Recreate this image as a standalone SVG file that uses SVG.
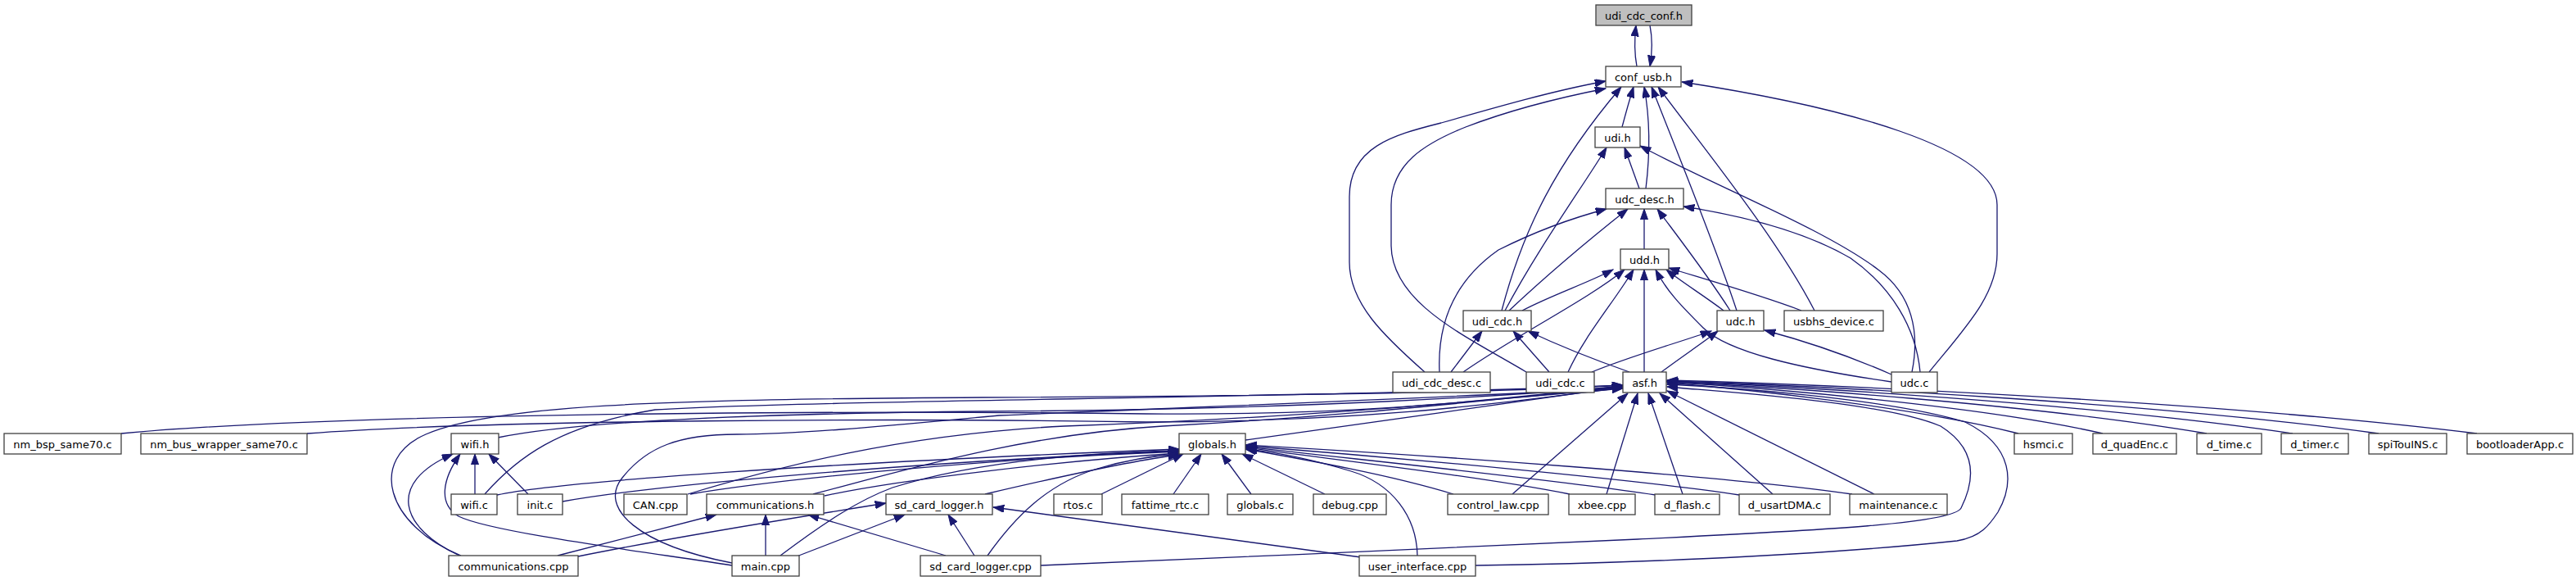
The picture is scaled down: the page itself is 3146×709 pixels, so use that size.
<svg xmlns="http://www.w3.org/2000/svg" width="3146" height="709" viewBox="0 0 3146 709">
<style>
.n rect{fill:#fff;stroke:#404040;stroke-width:1.3}
.n.root rect{fill:#bfbfbf}
.n text{font-family:"DejaVu Sans","Liberation Sans",sans-serif;font-size:13px;text-anchor:middle;fill:#000}
.e path{fill:none;stroke:#191970;stroke-width:1.3;marker-end:url(#arr)}
</style>
<defs>
<marker id="arr" markerUnits="userSpaceOnUse" markerWidth="14" markerHeight="10" refX="13.3" refY="4.65" orient="auto"><path d="M0,0 L13.3,4.65 L0,9.3 z" fill="#191970" stroke="#191970" stroke-width="1"/></marker>
</defs>
<rect width="3146" height="709" fill="#fff"/>
<g id="edges" class="e">
<path d="M1999,81 C1996,65 1996,48 1998,31"/>
<path d="M2015,31 C2018,46 2018,63 2015,81"/>
<path d="M1981,155 C1985,140 1990,122 1995,106"/>
<path d="M2010,230 C2015,190 2016,150 2008,106"/>
<path d="M1834,379 C1860,280 1900,200 1980,106"/>
<path d="M2121,379 C2095,300 2050,190 2017,106"/>
<path d="M2216,379 C2170,290 2080,180 2025,106"/>
<path d="M2356,454 C2400,400 2439,360 2439,310 L2439,250 C2439,180 2250,130 2054,100"/>
<path d="M1740,454 C1690,410 1648,370 1648,320 L1648,240 C1648,180 1700,165 1760,150 C1830,130 1900,110 1961,99"/>
<path d="M1864,454 C1790,410 1700,370 1699,300 L1699,250 C1699,200 1740,175 1790,155 C1850,132 1910,118 1961,108"/>
<path d="M2002,230 L1984,180"/>
<path d="M1838,379 C1880,300 1935,225 1962,180"/>
<path d="M2335,454 C2345,405 2335,360 2295,330 C2230,280 2090,225 2003,178"/>
<path d="M2008,304 L2008,255"/>
<path d="M1843,379 C1890,335 1950,285 1988,255"/>
<path d="M1758,454 C1755,390 1780,340 1830,305 C1880,280 1920,266 1962,255"/>
<path d="M2113,379 C2085,335 2050,290 2024,255"/>
<path d="M2345,454 C2340,400 2310,350 2260,315 C2200,280 2120,262 2056,252"/>
<path d="M1859,379 C1895,360 1940,345 1970,329"/>
<path d="M1787,454 C1850,410 1940,365 1984,329"/>
<path d="M1915,454 C1935,410 1970,370 1995,329"/>
<path d="M2008,454 L2008,329"/>
<path d="M2310,466 C2200,450 2110,430 2080,400 C2055,375 2035,355 2022,329"/>
<path d="M2105,379 C2080,360 2055,345 2035,329"/>
<path d="M2200,379 C2150,360 2080,340 2038,327"/>
<path d="M1772,454 L1810,404"/>
<path d="M1892,454 L1848,404"/>
<path d="M1990,454 C1950,440 1900,420 1866,404"/>
<path d="M1944,454 C1990,435 2050,418 2090,404"/>
<path d="M2029,454 C2050,438 2080,418 2098,404"/>
<path d="M2310,457 C2260,435 2200,415 2155,403"/>
<path d="M2465,529 C2330,495 2120,474 2036,467"/>
<path d="M2568,529 C2420,495 2150,473 2036,466"/>
<path d="M2695,529 C2480,493 2170,472 2036,466"/>
<path d="M2800,529 C2550,492 2180,471 2036,465"/>
<path d="M2905,529 C2620,490 2200,470 2036,465"/>
<path d="M3025,529 C2700,489 2220,469 2036,464"/>
<path d="M1271,690 C1500,680 1800,668 2000,658 C2200,648 2385,640 2395,620 C2415,580 2410,545 2370,520 C2300,490 2100,478 2036,472"/>
<path d="M1802,690 C1950,688 2200,680 2390,660 C2420,655 2430,640 2440,625 C2460,590 2460,545 2400,515 C2300,485 2100,472 2036,469"/>
<path d="M1847,603 L1988,480"/>
<path d="M1962,603 L2000,480"/>
<path d="M2055,603 L2013,480"/>
<path d="M2165,603 L2027,480"/>
<path d="M2289,603 L2036,477"/>
<path d="M1521,537 C1650,520 1850,490 1982,472"/>
<path d="M148,529 C400,505 1000,500 1400,505 C1700,508 1880,480 1982,471"/>
<path d="M375,529 C600,512 1100,510 1400,515 C1700,515 1880,485 1982,473"/>
<path d="M608,534 C700,515 900,505 1200,502 C1600,500 1850,482 1982,472"/>
<path d="M592,603 C630,560 680,520 800,500 C1000,488 1600,486 1982,470"/>
<path d="M563,678 C470,640 450,560 520,530 C600,495 800,487 1200,485 C1600,483 1850,478 1982,470"/>
<path d="M840,603 C950,570 1100,530 1300,520 C1600,510 1850,485 1982,474"/>
<path d="M993,603 C1100,575 1250,530 1420,520 C1700,505 1880,480 1982,473"/>
<path d="M894,687 C780,665 730,620 760,583 C790,545 830,530 900,530 C980,530 1100,518 1220,507 C1500,495 1850,482 1982,473"/>
<path d="M607,604 C680,588 1000,565 1440,548"/>
<path d="M687,612 C800,592 1100,565 1440,550"/>
<path d="M843,603 C950,585 1200,560 1440,551"/>
<path d="M1007,605 C1100,585 1300,562 1440,553"/>
<path d="M1203,603 C1280,585 1380,562 1440,555"/>
<path d="M953,678 C1010,635 1050,610 1090,595 C1200,560 1350,552 1440,550"/>
<path d="M1206,678 C1240,630 1280,590 1340,572 C1380,560 1410,556 1440,554"/>
<path d="M1345,603 L1445,554"/>
<path d="M1433,603 L1467,554"/>
<path d="M1528,603 L1492,554"/>
<path d="M1618,603 L1517,554"/>
<path d="M1775,603 C1700,580 1600,562 1521,548"/>
<path d="M1917,603 C1800,580 1620,560 1521,546"/>
<path d="M2022,604 C1900,585 1650,560 1521,545"/>
<path d="M2124,604 C2000,585 1700,558 1521,544"/>
<path d="M2262,603 C2100,580 1750,556 1521,543"/>
<path d="M1731,678 C1730,630 1700,590 1650,575 C1600,560 1560,552 1522,548"/>
<path d="M706,679 C800,660 950,635 1082,614"/>
<path d="M973,679 L1105,628"/>
<path d="M1190,678 L1158,628"/>
<path d="M1662,680 L1213,619"/>
<path d="M681,678 L875,628"/>
<path d="M935,678 L935,628"/>
<path d="M1155,678 L987,628"/>
<path d="M561,678 C490,645 470,590 553,554"/>
<path d="M894,690 C800,675 600,650 560,630 C535,615 540,585 562,554"/>
<path d="M580,603 L580,554"/>
<path d="M645,603 L597,554"/>
</g>
<g id="n_udi_cdc_conf_h" class="n root"><rect x="1949" y="6" width="117" height="25"/><text x="2007.5" y="23.5">udi_cdc_conf.h</text></g>
<g id="n_conf_usb_h" class="n"><rect x="1961" y="81" width="92" height="25"/><text x="2007" y="98.5">conf_usb.h</text></g>
<g id="n_udi_h" class="n"><rect x="1948" y="155" width="55" height="25"/><text x="1975.5" y="172.5">udi.h</text></g>
<g id="n_udc_desc_h" class="n"><rect x="1961" y="230" width="95" height="25"/><text x="2008.5" y="247.5">udc_desc.h</text></g>
<g id="n_udd_h" class="n"><rect x="1979" y="304" width="59" height="25"/><text x="2008.5" y="321.5">udd.h</text></g>
<g id="n_udi_cdc_h" class="n"><rect x="1787" y="379" width="83" height="25"/><text x="1828.5" y="396.5">udi_cdc.h</text></g>
<g id="n_udc_h" class="n"><rect x="2097" y="379" width="57" height="25"/><text x="2125.5" y="396.5">udc.h</text></g>
<g id="n_usbhs_device_c" class="n"><rect x="2179" y="379" width="121" height="25"/><text x="2239.5" y="396.5">usbhs_device.c</text></g>
<g id="n_udi_cdc_desc_c" class="n"><rect x="1701" y="454" width="119" height="25"/><text x="1760.5" y="471.5">udi_cdc_desc.c</text></g>
<g id="n_udi_cdc_c" class="n"><rect x="1864" y="454" width="83" height="25"/><text x="1905.5" y="471.5">udi_cdc.c</text></g>
<g id="n_asf_h" class="n"><rect x="1982" y="454" width="53" height="25"/><text x="2008.5" y="471.5">asf.h</text></g>
<g id="n_udc_c" class="n"><rect x="2310" y="454" width="56" height="25"/><text x="2338" y="471.5">udc.c</text></g>
<g id="n_nm_bsp_same70_c" class="n"><rect x="5" y="529" width="143" height="25"/><text x="76.5" y="546.5">nm_bsp_same70.c</text></g>
<g id="n_nm_bus_wrapper_same70_c" class="n"><rect x="172" y="529" width="203" height="25"/><text x="273.5" y="546.5">nm_bus_wrapper_same70.c</text></g>
<g id="n_wifi_h" class="n"><rect x="551" y="529" width="58" height="25"/><text x="580" y="546.5">wifi.h</text></g>
<g id="n_globals_h" class="n"><rect x="1440" y="529" width="81" height="25"/><text x="1480.5" y="546.5">globals.h</text></g>
<g id="n_hsmci_c" class="n"><rect x="2460" y="529" width="71" height="25"/><text x="2495.5" y="546.5">hsmci.c</text></g>
<g id="n_d_quadEnc_c" class="n"><rect x="2556" y="529" width="102" height="25"/><text x="2607" y="546.5">d_quadEnc.c</text></g>
<g id="n_d_time_c" class="n"><rect x="2683" y="529" width="79" height="25"/><text x="2722.5" y="546.5">d_time.c</text></g>
<g id="n_d_timer_c" class="n"><rect x="2786" y="529" width="82" height="25"/><text x="2827" y="546.5">d_timer.c</text></g>
<g id="n_spiTouINS_c" class="n"><rect x="2893" y="529" width="95" height="25"/><text x="2940.5" y="546.5">spiTouINS.c</text></g>
<g id="n_bootloaderApp_c" class="n"><rect x="3013" y="529" width="129" height="25"/><text x="3077.5" y="546.5">bootloaderApp.c</text></g>
<g id="n_wifi_c" class="n"><rect x="551" y="603" width="56" height="25"/><text x="579" y="620.5">wifi.c</text></g>
<g id="n_init_c" class="n"><rect x="632" y="603" width="55" height="25"/><text x="659.5" y="620.5">init.c</text></g>
<g id="n_CAN_cpp" class="n"><rect x="762" y="603" width="77" height="25"/><text x="800.5" y="620.5">CAN.cpp</text></g>
<g id="n_communications_h" class="n"><rect x="863" y="603" width="143" height="25"/><text x="934.5" y="620.5">communications.h</text></g>
<g id="n_sd_card_logger_h" class="n"><rect x="1082" y="603" width="130" height="25"/><text x="1147" y="620.5">sd_card_logger.h</text></g>
<g id="n_rtos_c" class="n"><rect x="1287" y="603" width="59" height="25"/><text x="1316.5" y="620.5">rtos.c</text></g>
<g id="n_fattime_rtc_c" class="n"><rect x="1370" y="603" width="106" height="25"/><text x="1423" y="620.5">fattime_rtc.c</text></g>
<g id="n_globals_c" class="n"><rect x="1499" y="603" width="80" height="25"/><text x="1539" y="620.5">globals.c</text></g>
<g id="n_debug_cpp" class="n"><rect x="1604" y="603" width="89" height="25"/><text x="1648.5" y="620.5">debug.cpp</text></g>
<g id="n_control_law_cpp" class="n"><rect x="1768" y="603" width="123" height="25"/><text x="1829.5" y="620.5">control_law.cpp</text></g>
<g id="n_xbee_cpp" class="n"><rect x="1916" y="603" width="81" height="25"/><text x="1956.5" y="620.5">xbee.cpp</text></g>
<g id="n_d_flash_c" class="n"><rect x="2021" y="603" width="79" height="25"/><text x="2060.5" y="620.5">d_flash.c</text></g>
<g id="n_d_usartDMA_c" class="n"><rect x="2124" y="603" width="111" height="25"/><text x="2179.5" y="620.5">d_usartDMA.c</text></g>
<g id="n_maintenance_c" class="n"><rect x="2259" y="603" width="119" height="25"/><text x="2318.5" y="620.5">maintenance.c</text></g>
<g id="n_communications_cpp" class="n"><rect x="548" y="678" width="158" height="25"/><text x="627" y="695.5">communications.cpp</text></g>
<g id="n_main_cpp" class="n"><rect x="894" y="678" width="82" height="25"/><text x="935" y="695.5">main.cpp</text></g>
<g id="n_sd_card_logger_cpp" class="n"><rect x="1124" y="678" width="147" height="25"/><text x="1197.5" y="695.5">sd_card_logger.cpp</text></g>
<g id="n_user_interface_cpp" class="n"><rect x="1660" y="678" width="142" height="25"/><text x="1731" y="695.5">user_interface.cpp</text></g>
</svg>
